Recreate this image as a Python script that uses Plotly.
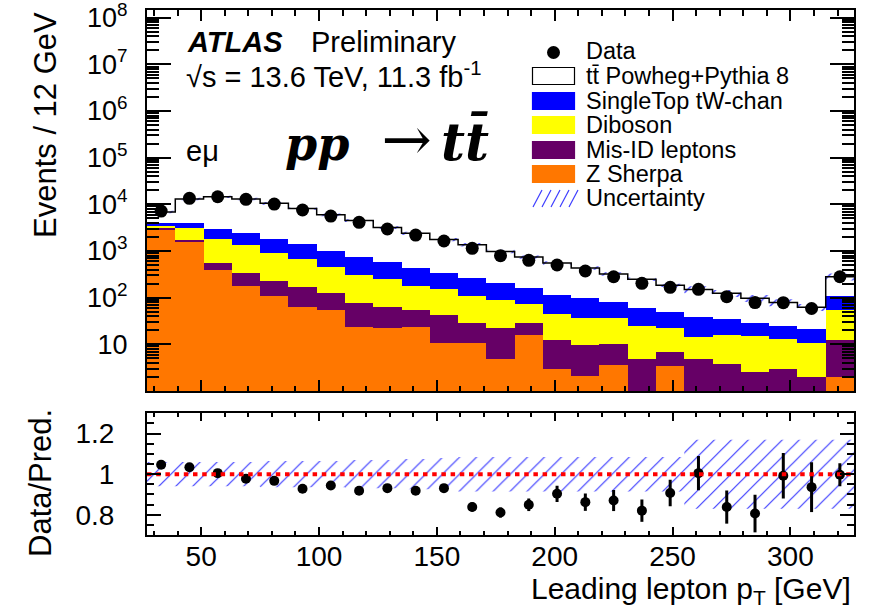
import plotly.graph_objects as go

# ---------------- data ----------------
bin_edges = [27, 39, 51, 63, 75, 87, 99, 111, 123, 135, 147, 159, 171, 183,
             195, 207, 219, 231, 243, 255, 267, 279, 291, 303, 315, 327]

data_counts = [7190, 13460, 14560, 12800, 10160, 7560, 5620, 4120, 2960, 2200,
               1637, 1142, 793, 631, 501, 373, 281, 203, 167, 151,
               105, 78.7, 78, 58.6, 281]

ttbar = [2954, 9097, 11573, 10711, 8727, 6757, 4938, 3756, 2607, 1972,
         1415, 1103, 775, 579, 441, 333, 241, 187, 134, 112,
         90, 68.6, 53.6, 41.3, 172]
single_top = [320, 860, 1135, 1047, 860, 726, 554, 426, 325, 247,
              192, 151, 114, 91, 70, 63, 46, 36.3, 28, 23.4,
              19.1, 13.9, 12.2, 10.4, 55.6]
diboson = [540, 1340, 1235, 1010, 689, 497, 333, 228, 183, 123.6,
           108.5, 80, 67, 44.8, 31.6, 27.3, 26, 19.9, 15, 9.8,
           12, 12.6, 9.9, 8.9, 42]
misid = [145, 83, 154, 155, 121, 105, 73.6, 54.1, 41.3, 30.5,
         31.6, 18.5, 17.2, 12.4, 9.5, 7.6, 6.4, 4.8, 3.5, 4.8,
         3.8, 2.5, 2.9, 2.0, 10.4]
z_sherpa = [2915, 1637, 391, 178, 110, 62, 54.4, 23.9, 22.7, 23.9,
            10.9, 10.5, 4.8, 15.8, 2.9, 2.1, 3.6, 0, 3.5, 0,
            0, 0, 0, 0, 2.0]

ratio = [1.046, 1.034, 1.005, 0.977, 0.967, 0.928, 0.944, 0.918, 0.931, 0.918,
         0.931, 0.838, 0.811, 0.849, 0.903, 0.862, 0.870, 0.820, 0.907, 1.005,
         0.838, 0.806, 0.992, 0.936, 0.997]
ratio_err = [0.008, 0.007, 0.007, 0.008, 0.009, 0.010, 0.012, 0.013, 0.015, 0.017,
             0.020, 0.022, 0.025, 0.031, 0.040, 0.043, 0.052, 0.055, 0.065, 0.084,
             0.082, 0.093, 0.112, 0.123, 0.057]
syst_unc = [0.060, 0.060, 0.060, 0.060, 0.065, 0.065, 0.065, 0.070, 0.070, 0.075,
            0.080, 0.085, 0.085, 0.085, 0.085, 0.085, 0.085, 0.085, 0.085, 0.170,
            0.170, 0.170, 0.170, 0.170, 0.170]

y_tick_vals = [10, 1e2, 1e3, 1e4, 1e5, 1e6, 1e7, 1e8]
y_tick_text = ["10", "10<sup>2</sup>", "10<sup>3</sup>", "10<sup>4</sup>",
               "10<sup>5</sup>", "10<sup>6</sup>", "10<sup>7</sup>", "10<sup>8</sup>"]
r_tick_vals = [0.8, 1.0, 1.2]
r_tick_text = ["0.8", "1", "1.2"]

# ---------------- derived helpers ----------------
centers = [(a + b) / 2 for a, b in zip(bin_edges[:-1], bin_edges[1:])]
widths = [b - a for a, b in zip(bin_edges[:-1], bin_edges[1:])]
total = [sum(v) for v in zip(z_sherpa, misid, diboson, single_top, ttbar)]


def step_y(vals):
    return list(vals) + [vals[-1]]


FONT = "Liberation Sans, Arial, Helvetica, sans-serif"
HATCH = "#3c3cff"

fig = go.Figure()

stack = [("Z Sherpa", z_sherpa, "#ff7700"),
         ("Mis-ID leptons", misid, "#660066"),
         ("Diboson", diboson, "#ffff00"),
         ("SingleTop tW-chan", single_top, "#0000ff"),
         ("tt̄ Powheg+Pythia 8", ttbar, "#ffffff")]
for name, vals, col in stack:
    fig.add_trace(go.Bar(x=centers, y=vals, width=widths, name=name,
                         marker=dict(color=col, line=dict(width=0)),
                         xaxis="x", yaxis="y", showlegend=False))


def hatch(size, solidity):
    return dict(shape="/", fgcolor=HATCH, bgcolor="rgba(255,255,255,0)", fgopacity=1,
                fillmode="replace", size=size, solidity=solidity)


# top uncertainty band
lo = [t * (1 - u) for t, u in zip(total, syst_unc)]
hi = [t * (1 + u) for t, u in zip(total, syst_unc)]
fig.add_trace(go.Scatter(x=bin_edges, y=step_y(lo), mode="lines", line=dict(width=0, shape="hv"),
                         xaxis="x", yaxis="y", showlegend=False, hoverinfo="skip"))
fig.add_trace(go.Scatter(x=bin_edges, y=step_y(hi), mode="lines", line=dict(width=0, shape="hv"),
                         fill="tonexty", fillcolor=HATCH, fillpattern=hatch(10, 0.14),
                         xaxis="x", yaxis="y", showlegend=False, hoverinfo="skip"))
# total prediction outline
fig.add_trace(go.Scatter(x=bin_edges, y=step_y(total), mode="lines",
                         line=dict(color="black", width=1.5, shape="hv"),
                         xaxis="x", yaxis="y", showlegend=False))
# data
fig.add_trace(go.Scatter(x=centers, y=data_counts, mode="markers",
                         marker=dict(color="black", size=13),
                         xaxis="x", yaxis="y", showlegend=False))

# ratio panel
rlo = [1 - u for u in syst_unc]
rhi = [1 + u for u in syst_unc]
fig.add_trace(go.Scatter(x=bin_edges, y=step_y(rlo), mode="lines", line=dict(width=0, shape="hv"),
                         xaxis="x2", yaxis="y2", showlegend=False, hoverinfo="skip"))
fig.add_trace(go.Scatter(x=bin_edges, y=step_y(rhi), mode="lines", line=dict(width=0, shape="hv"),
                         fill="tonexty", fillcolor=HATCH, fillpattern=hatch(12, 0.1),
                         xaxis="x2", yaxis="y2", showlegend=False, hoverinfo="skip"))
fig.add_trace(go.Scatter(x=centers, y=ratio, mode="markers",
                         marker=dict(color="black", size=10),
                         error_y=dict(type="data", array=ratio_err, thickness=3, width=0, color="black"),
                         xaxis="x2", yaxis="y2", showlegend=False))
fig.add_trace(go.Scatter(x=[bin_edges[0], bin_edges[-1]], y=[1, 1], mode="lines",
                         line=dict(color="#ff0000", width=4, dash="4.5px,4.7px"),
                         xaxis="x2", yaxis="y2", showlegend=False))

# ---------------- layout ----------------
L, R, T, B = 147, 15, 10, 79
W, H = 869, 614
PW, PH = W - L - R, H - T - B


def px(xp):
    return (xp - L) / PW


def py(yp):
    return (H - B - yp) / PH


top_dom = [py(391), 1]
bot_dom = [0, py(413.3)]

minor_log = [m * 10 ** k for k in range(0, 8) for m in range(2, 10)]

common_x = dict(range=[bin_edges[0], bin_edges[-1]], tickmode="linear", tick0=50, dtick=50,
                ticks="inside", mirror="allticks", showline=True, linecolor="black",
                linewidth=2, showgrid=False, zeroline=False, tickcolor="black", tickwidth=1.5,
                automargin=False)

fig.update_layout(
    width=W, height=H, margin=dict(l=L, r=R, t=T, b=B, autoexpand=False),
    paper_bgcolor="white", plot_bgcolor="white",
    barmode="stack", bargap=0,
    font=dict(family=FONT, color="black"),
    xaxis=dict(**common_x, anchor="y", showticklabels=False, ticklen=11,
               minor=dict(ticks="inside", dtick=10, tick0=30, ticklen=5.5, tickcolor="black", showgrid=False)),
    yaxis=dict(type="log", range=[0, 8.165], domain=top_dom, anchor="x",
               tickmode="array", tickvals=y_tick_vals, ticktext=y_tick_text,
               ticks="inside", ticklen=24, tickwidth=1.5, tickcolor="black", mirror="allticks",
               showline=True, linecolor="black", linewidth=2, showgrid=False, zeroline=False,
               tickfont=dict(size=27, family=FONT), ticklabelstandoff=12, automargin=False,
               ticklabeloverflow="allow",
               minor=dict(ticks="inside", tickmode="array", tickvals=minor_log, ticklen=12,
                          tickcolor="black", showgrid=False)),
    xaxis2=dict(**common_x, anchor="y2", showticklabels=True, ticklen=8,
                tickfont=dict(size=28, family=FONT), ticklabelstandoff=-5,
                ticklabeloverflow="allow",
                minor=dict(ticks="inside", dtick=10, tick0=30, ticklen=4, tickcolor="black", showgrid=False)),
    yaxis2=dict(range=[0.7, 1.3], domain=bot_dom, anchor="x2",
                tickmode="array", tickvals=r_tick_vals, ticktext=r_tick_text,
                ticks="inside", ticklen=14, tickwidth=1.5, tickcolor="black", mirror="allticks",
                showline=True, linecolor="black", linewidth=2, showgrid=False, zeroline=False,
                tickfont=dict(size=28, family=FONT), ticklabelstandoff=25, automargin=False,
                ticklabeloverflow="allow",
                minor=dict(ticks="inside", dtick=0.05, tick0=0.7, ticklen=7, tickcolor="black",
                           showgrid=False)),
)

ann = []


def text(x, y, s, size, xanchor="left", yanchor="middle", angle=0, family=FONT):
    ann.append(dict(x=px(x), y=py(y), xref="paper", yref="paper", text=s, showarrow=False,
                    xanchor=xanchor, yanchor=yanchor, textangle=angle,
                    font=dict(size=size, family=family, color="black")))


text(185, 42, "<b><i>ATLAS</i></b>", 29)
text(309, 42, "Preliminary", 29)
text(184, 75, "√s = 13.6 TeV, 11.3 fb<sup>-1</sup>", 29)
text(184, 151, "eμ", 29)
text(283, 139,
     "<b><i>pp</i></b>\u2002\u2009<span style='font-size:60px'>→</span>\u2009"
     "<span style='font-size:52px'><b><i>tt̄</i></b></span>",
     46, family="DejaVu Serif, Liberation Serif, serif")

leg_names = ["Data", "tt̄ Powheg+Pythia 8", "SingleTop tW-chan", "Diboson",
             "Mis-ID leptons", "Z Sherpa", "Uncertainty"]
leg_y = [51, 76, 101, 125, 150, 174, 198]
for nm, yy in zip(leg_names, leg_y):
    text(584, yy, nm, 23.5)

text(45, 125, "Events / 12 GeV", 31, xanchor="center", angle=-90)
text(40, 483, "Data/Pred.", 31, xanchor="center", angle=-90)
text(853, 590, "Leading lepton p<sub>T</sub> [GeV]", 30, xanchor="right")

shapes = []
# legend swatches
shapes.append(dict(type="circle", xref="paper", yref="paper",
                   x0=px(547), x1=px(560), y0=py(46), y1=py(59),
                   fillcolor="black", line=dict(width=0)))
sw = [(76, "#ffffff", "black"), (101, "#0000ff", "#0000ff"), (125, "#ffff00", "#ffff00"),
      (150, "#660066", "#660066"), (174, "#ff7700", "#ff7700")]
for yc, fc, lc in sw:
    shapes.append(dict(type="rect", xref="paper", yref="paper",
                       x0=px(532.5), x1=px(574.5), y0=py(yc - 8.5), y1=py(yc + 8.5),
                       fillcolor=fc, line=dict(color=lc, width=1.2)))
for k in range(5):
    x0 = 533 + k * 9
    shapes.append(dict(type="line", xref="paper", yref="paper",
                       x0=px(x0), x1=px(x0 + 9), y0=py(207), y1=py(190),
                       line=dict(color=HATCH, width=1.2)))

fig.update_layout(annotations=ann, shapes=shapes)
fig.write_html("out.html")
